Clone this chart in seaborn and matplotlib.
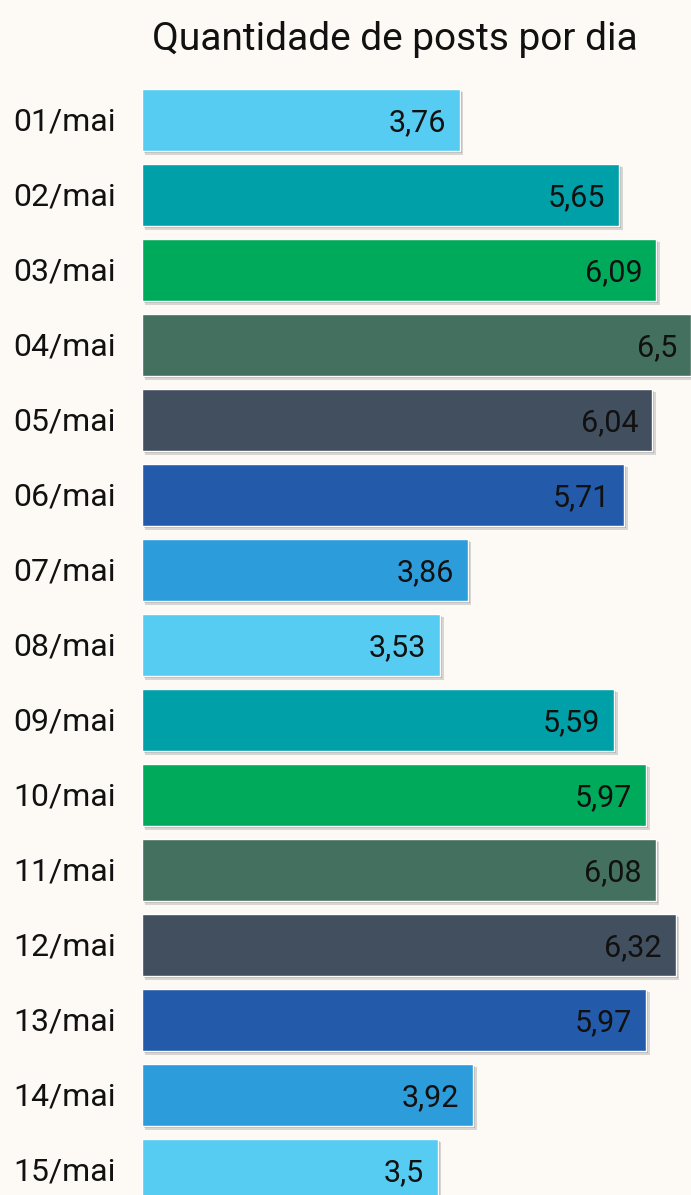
import matplotlib
matplotlib.use("Agg")
import matplotlib.pyplot as plt
import matplotlib.patheffects as pe
import matplotlib.transforms as mtransforms
import seaborn as sns
import pandas as pd

dias = ["01/mai", "02/mai", "03/mai", "04/mai", "05/mai", "06/mai", "07/mai",
        "08/mai", "09/mai", "10/mai", "11/mai", "12/mai", "13/mai", "14/mai", "15/mai"]
posts = [3.76, 5.65, 6.09, 6.5, 6.04, 5.71, 3.86, 3.53, 5.59, 5.97, 6.08, 6.32, 5.97, 3.92, 3.5]
cores_base = ["#56CCF2", "#00A0A8", "#00AA5B", "#43705F", "#424F5F", "#235BAA", "#2D9CDB"]
cores = [cores_base[i % len(cores_base)] for i in range(len(dias))]

bg = "#FDFAF5"
sns.set_style("white")
plt.rcParams["font.family"] = ["Roboto", "DejaVu Sans"]

df = pd.DataFrame({"dia": dias, "posts": posts})

fig = plt.figure(figsize=(6.91, 11.95), dpi=100, facecolor=bg)
# axes from x=142px to right edge, y from 80px to bottom
ax = fig.add_axes([142 / 691, 0, 549 / 691, (1195 - 80) / 1195])
ax.set_facecolor(bg)

sns.barplot(data=df, x="posts", y="dia", hue="dia", palette=cores, legend=False,
            orient="h", width=0.83, ax=ax, saturation=1)

# soft drop shadow on the bars
for bar in ax.patches:
    bar.set_path_effects([pe.SimplePatchShadow(offset=(2.5, -2.5), alpha=0.18, shadow_rgbFace="#333333"),
                          pe.SimplePatchShadow(offset=(1.5, -1.5), alpha=0.2, shadow_rgbFace="#333333"),
                          pe.Normal()])

for i, v in enumerate(posts):
    ax.annotate(f"{v:g}".replace(".", ","), xy=(v, i), xytext=(-10, -2),
                textcoords="offset points", ha="right", va="center",
                fontsize=22, color="#111111")

ax.set_xlim(0, 6.5)
ax.set_ylim((1195 - 120) / 75, -40 / 75)
ax.set_xlabel("")
ax.set_ylabel("")
ax.set_xticks([])
ax.set_yticks([])

# day labels, left aligned near the figure edge
trans = mtransforms.blended_transform_factory(fig.transFigure, ax.transData)
for i, d in enumerate(dias):
    ax.annotate(d, xy=(13 / 691, i), xycoords=trans, xytext=(0, -1.5),
                textcoords="offset points", ha="left", va="center",
                fontsize=23, color="#111111", annotation_clip=False)
sns.despine(ax=ax, left=True, bottom=True)

fig.text(395 / 691, 1 - 39 / 1195, "Quantidade de posts por dia", ha="center", va="center",
         fontsize=28, color="#111111")

fig.savefig("out.png", dpi=100, facecolor=bg)
